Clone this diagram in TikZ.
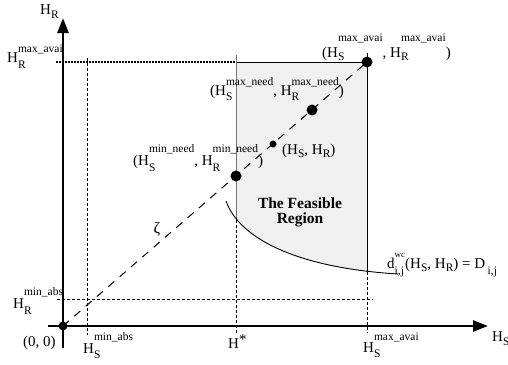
\documentclass[tikz,border=0pt]{standalone}
\usepackage{fontspec}
\setmainfont{Liberation Serif}
\usetikzlibrary{arrows.meta}
\newcommand\subf{\fontsize{11.5}{12}\selectfont}
% #1 raise of sup, #2 lowering of sub, #3 sub, #4 sup
\newcommand\supsub[4]{%
  \setbox0\hbox{\subf #3}\setbox2\hbox{\subf #4}%
  \ifdim\wd0>\wd2 \rlap{\raise#1\box2}\lower#2\box0 \else\rlap{\lower#2\box0}\raise#1\box2 \fi}
\begin{document}
\begin{tikzpicture}[x=1pt,y=-1pt,
  lab/.style={inner sep=0pt, anchor=base west, font=\fontsize{15}{18}\selectfont},
  axis/.style={line width=2.6pt, -{Triangle[length=15pt,width=11pt]}},
  guide/.style={line width=0.8pt, dash pattern=on 3pt off 2pt},
  topguide/.style={line width=1.2pt, dash pattern=on 2pt off 1pt},
  diag/.style={line width=1pt, dash pattern=on 8pt off 7pt},
  dot/.style={circle, fill=black, inner sep=0pt, minimum size=#1},
  edgeline/.style={line width=0.9pt},
  regionfill/.style={fill=black!6},
]
\useasboundingbox (0,0) rectangle (508,364);

% named points
\coordinate (O) at (63,326);
\coordinate (P) at (367,62);
\coordinate (Cs) at (226,201);
\coordinate (Ce) at (398,274);

% feasible region fill
\begin{scope}
  \clip (236,62) rectangle (367,300);
  \fill[regionfill] (Cs) .. controls (240,240) and (300,268) .. (Ce) -- (398,40) -- (226,40) -- cycle;
\end{scope}

% guide lines
\draw[topguide] (56,62) -- (236,62);
\draw[edgeline] (236,62) -- (367,62);
\draw[edgeline, black!55] (236,55) -- (236,220);
\draw[guide] (236,220) -- (236,333);
\draw[edgeline] (367,53) -- (367,272);
\draw[guide] (367,272) -- (367,333);
\draw[guide] (87,58) -- (87,335);
\draw[guide] (57,299) -- (373,299);

% curve
\draw[line width=0.9pt] (Cs) .. controls (240,240) and (300,268) .. (Ce);

% axes
\draw[axis] (63,348) -- (63,18);
\draw[axis] (48,326) -- (488,326);

% diagonal
\draw[diag] (O) -- (P);

% dots
\node[dot=9pt] (d0) at (O) {};
\node[dot=11pt] (dP) at (P) {};
\node[dot=11pt] (dmax) at (312,110) {};
\node[dot=7pt] (dmid) at (273,144) {};
\node[dot=11pt] (dmin) at (236,176) {};

% labels
\node[lab] (lHR) at (40,14) {H\supsub{0pt}{4pt}{R}{}};
\node[lab] (lHRmax) at (7,62) {H\supsub{10pt}{6pt}{R}{max\_avai}};
\node[lab] (lHRmin) at (13,308) {H\supsub{13pt}{6pt}{R}{min\_abs}};
\node[lab] (l00) at (23,346) {(0, 0)};
\node[lab] (lHSmin) at (83,353) {H\supsub{13pt}{5pt}{S}{min\_abs}};
\node[lab] (lHstar) at (228,348) {H\raise4pt\hbox{*}};
\node[lab] (lHSmax) at (363,352) {H\supsub{12pt}{5pt}{S}{max\_avai}};
\node[lab] (lHS) at (492,341) {H\supsub{0pt}{4pt}{S}{}};
\node[lab] (ltr) at (322,57) {(H\supsub{16pt}{3pt}{S}{max\_avai}, H\supsub{16pt}{3pt}{R}{max\_avai})};
\node[lab] (lmaxneed) at (210,95) {(H\supsub{10pt}{5pt}{S}{max\_need}, H\supsub{10pt}{5pt}{R}{max\_need})};
\node[lab] (lminneed) at (133,165) {(H\supsub{13pt}{6pt}{S}{min\_need}, H\supsub{13pt}{6pt}{R}{min\_need})};
\node[lab] (lHSHR) at (282,154) {(H\supsub{0pt}{3pt}{S}{}, H\supsub{0pt}{3pt}{R}{})};
\node[inner sep=0pt, font=\fontsize{16}{18}\selectfont] (zeta) at (157,229) {ζ};
\node[inner sep=0pt, align=center, font=\fontsize{15.5}{15}\selectfont\bfseries] (feas) at (300,212) {The Feasible\\Region};
\node[lab] (ldwc) at (387,268) {d\supsub{11pt}{6pt}{i,j}{\fontsize{9}{9}\selectfont wc}(H\supsub{0pt}{3pt}{S}{}, H\supsub{0pt}{3pt}{R}{}) = D\,\lower6pt\hbox{\subf i,j}};
\end{tikzpicture}
\end{document}
